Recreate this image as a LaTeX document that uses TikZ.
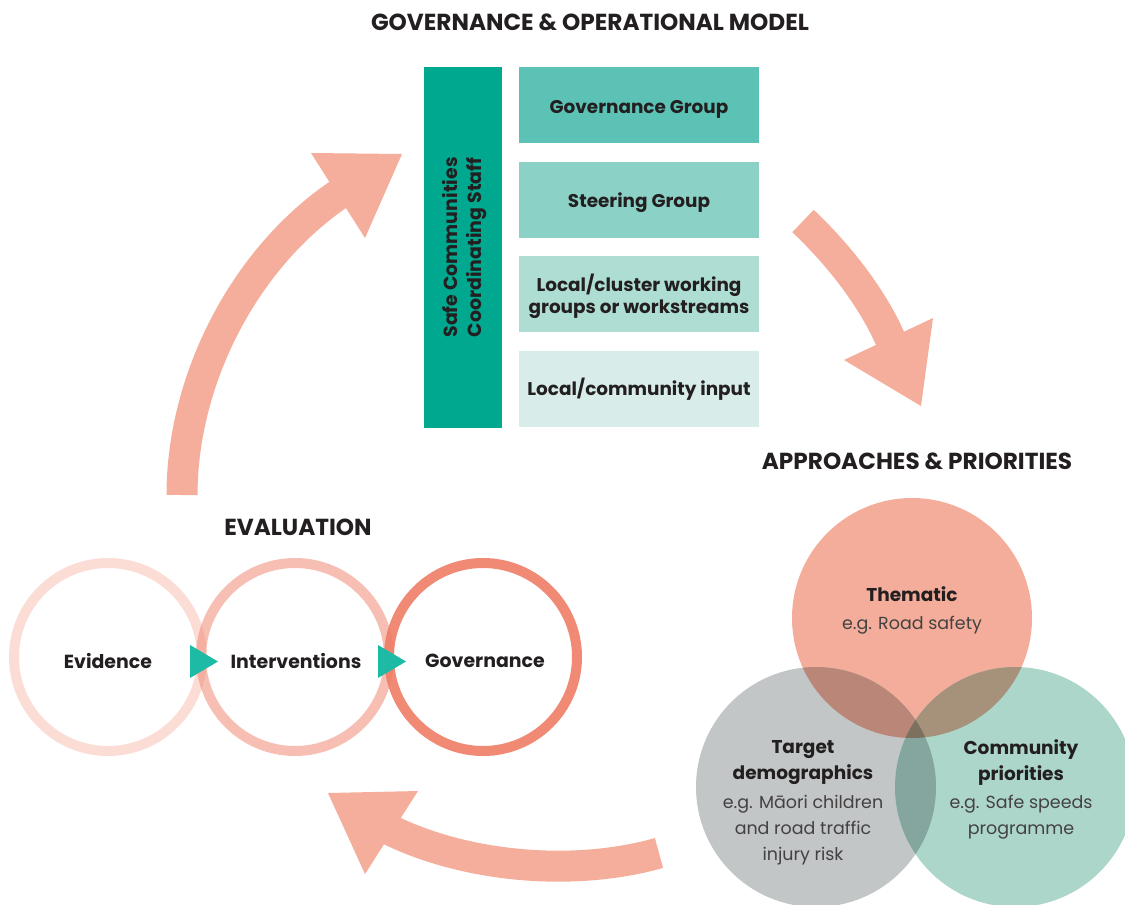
\documentclass[tikz,border=0pt]{standalone}
\usepackage{fontspec}
\setmainfont{Poppins}
\definecolor{ink}{HTML}{231F20}
\definecolor{staff}{HTML}{00A88F}
\definecolor{gA}{HTML}{5BC2B5}
\definecolor{gB}{HTML}{8BD1C5}
\definecolor{gC}{HTML}{AEDDD3}
\definecolor{gD}{HTML}{D8EDE9}
\definecolor{ring}{HTML}{EE7A62}
\definecolor{tri}{HTML}{1DBAA5}
\definecolor{arr}{HTML}{F4AE9B}
\definecolor{vT}{HTML}{F4AD9A}
\definecolor{vL}{HTML}{C2C6C7}
\definecolor{vR}{HTML}{ADD6CB}
\definecolor{vTL}{HTML}{B98678}
\definecolor{vTR}{HTML}{A6917B}
\definecolor{vLR}{HTML}{84A69E}
\definecolor{vTLR}{HTML}{7D705F}
\tikzset{
  heading/.style={text=ink, font=\fontsize{17.4}{20}\selectfont\bfseries},
  grpbox/.style={minimum width=180pt, minimum height=57pt, inner sep=0pt},
  grptext/.style={text=ink, align=center, inner sep=0pt, font=\fontsize{13.8}{16.5}\selectfont\bfseries},
  evring/.style={draw=ring, line width=7.5pt},
  evlabel/.style={text=ink, font=\fontsize{14.2}{16}\selectfont\bfseries},
  vtitle/.style={text=ink, align=center, font=\fontsize{13.9}{19.5}\selectfont\bfseries},
  vtext/.style={text=ink!85, align=center, font=\fontsize{13.1}{19.5}\selectfont},
  bigarrow/.style={draw=arr, line width=23.25pt, line cap=butt},
}
\begin{document}
\begin{tikzpicture}[x=0.75pt,y=-0.75pt]
\useasboundingbox (0,0) rectangle (1125,904);

% headings
\node[heading] (hgov) at (590,22) {GOVERNANCE \& OPERATIONAL MODEL};
\node[heading] (happ) at (917,461) {APPROACHES \& PRIORITIES};
\node[heading] (heval) at (298,527) {EVALUATION};

% governance model
\node[fill=staff, minimum width=58.5pt, minimum height=270.75pt, inner sep=0pt] (staff) at (463,247.5) {};
\node[rotate=90, align=center, text=ink, font=\fontsize{14.2}{17.5}\selectfont\bfseries] (stafftxt) at (464.5,247.5) {Safe Communities\\Coordinating Staff};
\node[grpbox, fill=gA] (g1) at (639,105) {};
\node[grpbox, fill=gB] (g2) at (639,200) {};
\node[grpbox, fill=gC] (g3) at (639,294) {};
\node[grpbox, fill=gD] (g4) at (639,389) {};
\node[grptext, yshift=-3pt] (t1) at (g1.center) {Governance Group};
\node[grptext, yshift=-2.25pt] (t2) at (g2.center) {Steering Group};
\node[grptext, yshift=-1.5pt] (t3) at (g3.center) {Local/cluster working\\groups or workstreams};
\node[grptext] (t4) at (g4.center) {Local/community input};

% big arrows
\draw[bigarrow] (182,495) .. controls (182,380) and (244,257) .. (342,192);
\fill[arr] (311,153) -- (402,154) -- (365,238) -- cycle;
\draw[bigarrow] (803,221) .. controls (840,256) and (874,300) .. (892,343);
\fill[arr] (844,360) -- (933,318) -- (921,406) -- cycle;
\draw[bigarrow] (659,853) .. controls (570,878) and (462,866) .. (388,829);
\fill[arr] (328,793) -- (418,791) -- (365,874) -- cycle;

% evaluation rings
\draw[evring, draw opacity=0.26] (108,657) circle (94);
\draw[evring, draw opacity=0.48] (295,657) circle (94);
\draw[evring, draw opacity=0.88] (483,657) circle (94);
\fill[tri] (190,645) -- (218,661.5) -- (190,678) -- cycle;
\fill[tri] (378,645) -- (406,661.5) -- (378,678) -- cycle;
\node[evlabel] (ev) at (108,661) {Evidence};
\node[evlabel] (iv) at (296,661) {Interventions};
\node[evlabel] (gv) at (485,661) {Governance};

% venn
\fill[vT] (912,618) circle (120);
\fill[vL] (816,787) circle (120);
\fill[vR] (1015,787) circle (120);
\begin{scope}
  \clip (912,618) circle (120);
  \fill[vTL] (816,787) circle (120);
  \fill[vTR] (1015,787) circle (120);
\end{scope}
\begin{scope}
  \clip (816,787) circle (120);
  \fill[vLR] (1015,787) circle (120);
  \clip (1015,787) circle (120);
  \fill[vTLR] (912,618) circle (120);
\end{scope}
\node[vtitle] (th) at (912,594) {Thematic};
\node[vtext] (thx) at (912,625) {e.g. Road safety};
\node[vtitle] (td) at (803,762.5) {Target\\demographics};
\node[vtext] (tdx) at (803,830) {e.g. Māori children\\and road traffic\\injury risk};
\node[vtitle] (cp) at (1021,762.5) {Community\\priorities};
\node[vtext] (cpx) at (1021,817.5) {e.g. Safe speeds\\programme};
\end{tikzpicture}
\end{document}
